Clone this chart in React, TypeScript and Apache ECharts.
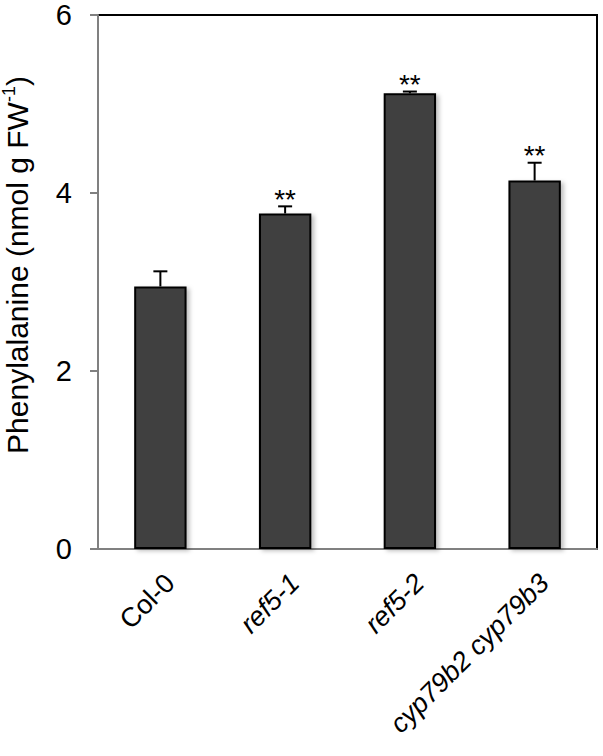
import React, { useEffect, useRef } from 'react';
import * as echarts from 'echarts';

const categories = ['Col-0', 'ref5-1', 'ref5-2', 'cyp79b2 cyp79b3'];
const italicLabel = [false, true, true, true];
const means = [2.95, 3.77, 5.12, 4.14];
const errors = [0.17, 0.08, 0.02, 0.2];
const significance = ['', '**', '**', '**'];
const yMin = 0;
const yMax = 6;
const yStep = 2;

const FONT = 'Liberation Sans, Arial, sans-serif';

export default function App() {
  const ref = useRef<HTMLDivElement>(null);

  useEffect(() => {
    const chart = echarts.init(ref.current as HTMLDivElement, null, { renderer: 'svg' });
    chart.setOption({
      animation: false,
      grid: {
        left: 98,
        right: 6,
        top: 15,
        bottom: 207,
        containLabel: false,
        outerBoundsMode: 'none',
        show: true,
        borderColor: '#000',
        borderWidth: 2,
        backgroundColor: 'transparent',
      },
      xAxis: {
        type: 'category',
        data: categories,
        axisLine: { show: true, lineStyle: { color: '#808080', width: 2 } },
        axisTick: { show: false },
        splitLine: { show: false },
        axisLabel: {
          interval: 0,
          rotate: 45,
          margin: 20,
          verticalAlign: 'top',
          color: '#000',
          fontSize: 27,
          fontFamily: FONT,
          formatter: (v: string, i: number) => (italicLabel[i] ? `{i|${v}}` : `{n|${v}}`),
          rich: {
            i: { fontStyle: 'italic', fontSize: 27, fontFamily: FONT, color: '#000' },
            n: { fontSize: 27, fontFamily: FONT, color: '#000' },
          },
        },
      },
      yAxis: {
        type: 'value',
        min: yMin,
        max: yMax,
        interval: yStep,
        axisLine: { show: true, lineStyle: { color: '#808080', width: 2 } },
        axisTick: { show: true, length: 8, lineStyle: { color: '#808080', width: 2 } },
        splitLine: { show: false },
        axisLabel: { margin: 26, fontSize: 29, color: '#000', fontFamily: FONT },
        name: '{a|Phenylalanine (nmol g FW}{s|-1}{a|)}',
        nameLocation: 'middle',
        nameGap: 64,
        nameTextStyle: {
          color: '#000',
          fontFamily: FONT,
          padding: [0, 0, 0, 34],
          rich: {
            a: { fontSize: 30, lineHeight: 34, fontFamily: FONT, color: '#000' },
            s: { fontSize: 18, lineHeight: 22, fontFamily: FONT, color: '#000', verticalAlign: 'top' },
          },
        },
      },
      series: [
        {
          type: 'bar',
          data: means,
          barWidth: '42%',
          z: 2,
          itemStyle: {
            color: '#404040',
            borderColor: '#000',
            borderWidth: 2,
            shadowColor: 'rgba(0,0,0,0.25)',
            shadowBlur: 4,
            shadowOffsetX: 3,
            shadowOffsetY: 2,
          },
        },
        {
          type: 'custom',
          z: 3,
          data: means.map((m, i) => [i, m, errors[i]]),
          encode: { x: 0, y: 1 },
          renderItem: (params: any, api: any) => {
            const i = api.value(0);
            const m = api.value(1);
            const e = api.value(2);
            const base = api.coord([i, m]);
            const top = api.coord([i, m + e]);
            const hw = 7;
            const children: any[] = [
              {
                type: 'line',
                shape: { x1: base[0], y1: base[1], x2: top[0], y2: top[1] },
                style: { stroke: '#000', lineWidth: 2 },
              },
              {
                type: 'line',
                shape: { x1: top[0] - hw, y1: top[1], x2: top[0] + hw, y2: top[1] },
                style: { stroke: '#000', lineWidth: 2 },
              },
            ];
            const sig = significance[params.dataIndex];
            if (sig) {
              children.push({
                type: 'text',
                style: {
                  text: sig,
                  x: top[0],
                  y: top[1] - 7,
                  align: 'center',
                  verticalAlign: 'middle',
                  fontSize: 28,
                  fontFamily: FONT,
                  fill: '#000',
                },
              });
            }
            return { type: 'group', children };
          },
        },
      ],
    });
    return () => chart.dispose();
  }, []);

  return (
    <div
      ref={ref}
      style={{ position: 'fixed', left: 0, top: 0, width: 603, height: 756, background: '#fff' }}
    />
  );
}
